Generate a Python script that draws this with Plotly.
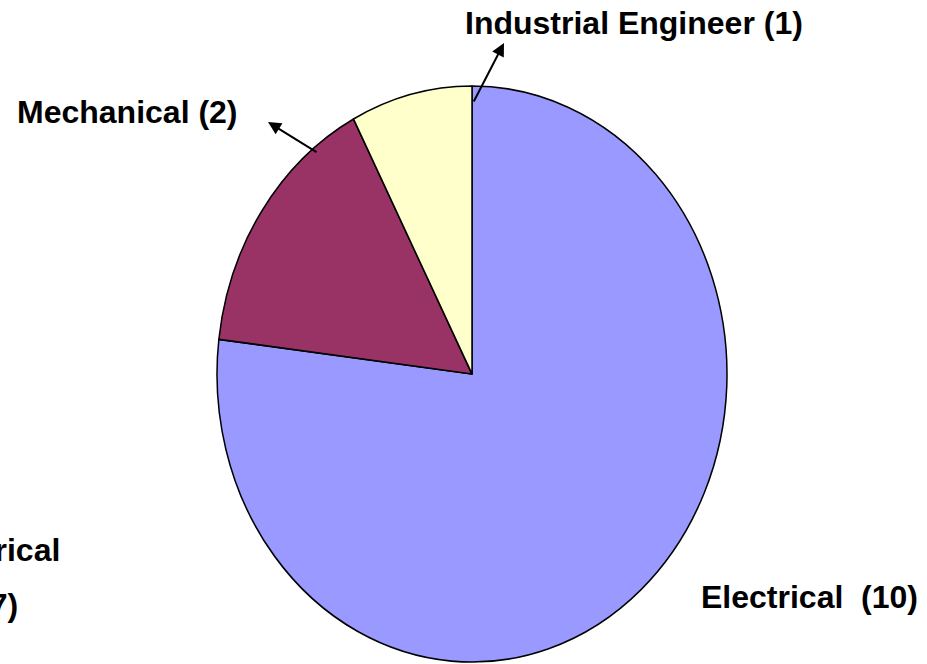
import plotly.graph_objects as go

# ---- data ----
categories = ["Electrical", "Mechanical", "Industrial Engineer"]
counts = [10, 2, 1]
slice_colors = ["#9999FF", "#993366", "#FFFFCC"]
cut_label_lines = ["Electrical", "(7)"]

W, H = 927, 664
FONT = "Arial, 'Liberation Sans', sans-serif"
FS = 32

# pie geometry (pixels)
cx, cy = 472, 374
rx, ry = 255, 288


def px(x):
    return x / W


def py(y):
    return 1 - y / H


fig = go.Figure(
    go.Pie(
        labels=categories,
        values=counts,
        sort=False,
        direction="clockwise",
        rotation=0,
        marker=dict(colors=slice_colors, line=dict(color="black", width=1.5)),
        textinfo="none",
        hoverinfo="skip",
        showlegend=False,
        domain=dict(x=[px(cx - rx), px(cx + rx)], y=[py(cy + rx), py(cy - rx)]),
    )
)

# (text, x, y, xanchor)
labels = [
    (f"{categories[2]} ({counts[2]})", 634, 23, "center"),
    (f"{categories[1]} ({counts[1]})", 240, 112, "right"),
    (f"{categories[0]}  ({counts[0]})", 920, 597, "right"),
    (cut_label_lines[0], 62, 550, "right"),
    (cut_label_lines[1], 20, 605, "right"),
]
annotations = []
for text, x, y, xa in labels:
    annotations.append(
        dict(
            text=f"<b>{text}</b>",
            x=px(x), y=py(y), xref="paper", yref="paper",
            showarrow=False, xanchor=xa, yanchor="middle",
            font=dict(family=FONT, size=FS, color="black"),
        )
    )

# leader arrows: (head x, head y, tail x, tail y)
arrows = [(504, 43, 473, 103), (268, 122, 318, 153)]
for hx, hy, tx, ty in arrows:
    annotations.append(
        dict(
            text="", x=px(hx), y=py(hy), xref="paper", yref="paper",
            ax=tx - hx, ay=ty - hy, axref="pixel", ayref="pixel",
            showarrow=True, arrowhead=2, arrowsize=1.3, arrowwidth=2,
            arrowcolor="black",
        )
    )

fig.update_layout(
    width=W, height=H, autosize=False,
    margin=dict(l=0, r=0, t=0, b=0),
    paper_bgcolor="white", plot_bgcolor="white",
    annotations=annotations,
)

post = """
document.body.style.margin = '0';
var gd = document.getElementById('{plot_id}');
function squash(){
  var layer = gd.querySelector('.pielayer');
  if(!layer) return;
  var cyy = %f, s = %f;
  try { var c = gd.calcdata[0][0]; if (c && isFinite(c.cy)) cyy = c.cy; } catch(e) {}
  layer.setAttribute('transform', 'translate(0,' + cyy + ') scale(1,' + s + ') translate(0,' + (-cyy) + ')');
}
squash();
gd.on('plotly_afterplot', squash);
""" % (cy, ry / rx)

fig.write_html("out.html", post_script=post, config={"displayModeBar": False})
